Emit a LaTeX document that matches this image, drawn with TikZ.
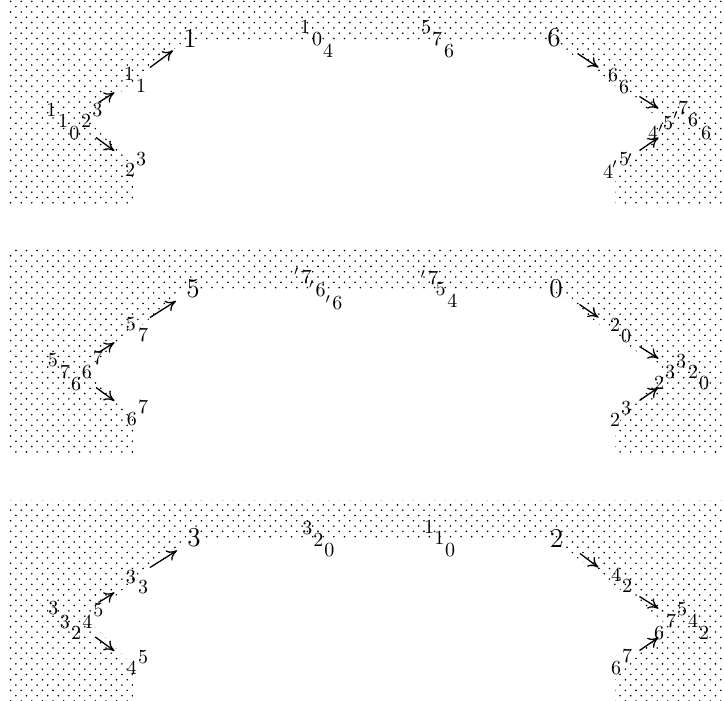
\documentclass[tikz,border=0pt]{standalone}
\usetikzlibrary{arrows.meta,patterns}
\pgfdeclarepatternformonly{sdots}{\pgfqpoint{-0.6pt}{-0.6pt}}{\pgfqpoint{3.3pt}{3.3pt}}{\pgfqpoint{5.3pt}{5.3pt}}{%
  \pgfpathcircle{\pgfqpoint{0pt}{0pt}}{0.45pt}%
  \pgfpathcircle{\pgfqpoint{2.65pt}{2.65pt}}{0.45pt}%
  \pgfusepath{fill}}
\newlength\pxu \setlength\pxu{0.5pt}
% one glyph, shifted right by #1 px and raised by #2 px
\newcommand\gl[3]{\makebox[0pt][l]{\hspace*{#1\pxu}\raisebox{#2\pxu}{\makebox[0pt][c]{#3}}}}
\newcommand\panelbg{%
  \fill[pattern=sdots,pattern color=black] (9,0) rectangle (724,204);
  \fill[white] (133,206) -- (133,165) -- (87,119) -- (186,40) -- (552,40)
     -- (663,121) -- (615,176) -- (615,206) -- cycle;}
\newcommand\parrows[1]{%
  \draw[arr] ([shift={(46.5,-13.95)}]#1C.base) -- ([shift={(-15.5,11.5)}]#1M.base);
  \draw[arr] ([shift={(20,-13.5)}]#1M.base) -- ([shift={(-17,12.5)}]#1L.center);
  \draw[arr] ([shift={(44,21.05)}]#1C.base) -- ([shift={(-16.5,-25)}]#1B.base);
  \draw[arr] ([shift={(23.5,15.5)}]#1R.center) -- ([shift={(-15.5,-14)}]#1RM.base);
  \draw[arr] ([shift={(25.5,15)}]#1RM.base) -- ([shift={(2.5,-31)}]#1RC.base);
  \draw[arr] ([shift={(27.5,-26)}]#1RB.base) -- ([shift={(2.5,-2)}]#1RC.base);}
\begin{document}
\begin{tikzpicture}[x=0.5pt,y=-0.5pt,
  sm/.style={inner sep=0pt,anchor=base,font=\fontsize{10}{12}\selectfont},
  big/.style={inner sep=0pt,font=\fontsize{13.6}{16}\selectfont},
  arr/.style={-{To[length=5pt,width=6pt]},line width=0.65pt}]
\useasboundingbox (0,0) rectangle (724,701);
% ---------------- panel 1
\begin{scope}
\panelbg
\node[big] (p1L) at (190,38) {1};
\node[big] (p1R) at (554,38) {6};
\node[sm] (p1M) at (130,81) {\gl{-1}{0}{1}\gl{11}{-12}{1}};
\node[sm] (p1C) at (52,116.45) {\gl{-0.5}{0}{1}\gl{11}{-11.5}{1}\gl{22.5}{-23}{0}\gl{34}{-11.5}{2}\gl{45.5}{0}{3}};
\node[sm] (p1B) at (131,176) {\gl{-1}{-0.5}{2}\gl{10}{10.5}{3}};
\node[sm] (p1T) at (305,33.45) {\gl{0}{0}{1}\gl{12}{-12.5}{0}\gl{23}{-24}{4}};
\node[sm] (p1U) at (426,33.45) {\gl{0}{0}{5}\gl{11}{-12}{7}\gl{23}{-24}{6}};
\node[sm] (p1RM) at (614,81.5) {\gl{-1}{0}{6}\gl{10}{-12}{6}};
\node[sm] (p1RC) at (656,139.5) {\gl{-3}{0}{4}\gl{5}{0}{$'$}\gl{12}{10}{5}\gl{20}{12.4}{$'$}\gl{27}{25}{7}\gl{37}{13}{6}\gl{50}{0}{6}};
\node[sm] (p1RB) at (612,176.5) {\gl{-4}{-2}{4}\gl{3}{1}{$'$}\gl{12}{10.75}{5}\gl{18}{7.7}{$'$}};
\parrows{p1}
\end{scope}
% ---------------- panel 2
\begin{scope}[shift={(0,250)}]
\panelbg
\node[big] (p2L) at (193,38.5) {5};
\node[big] (p2R) at (556,39) {0};
\node[sm] (p2M) at (130,81) {\gl{1}{0.5}{5}\gl{13}{-10.5}{7}};
\node[sm] (p2C) at (52,116.45) {\gl{1}{0}{5}\gl{13}{-12}{7}\gl{24}{-24}{6}\gl{35}{-12}{6}\gl{46}{2}{7}};
\node[sm] (p2B) at (131,176) {\gl{1}{0.5}{6}\gl{12}{12.5}{7}};
\node[sm] (p2T) at (306.7,33.15) {\gl{-10}{0.35}{$'$}\gl{0}{0}{7}\gl{5}{-12.25}{$'$}\gl{14}{-13.3}{6}\gl{21.6}{-27.25}{$'$}\gl{30.6}{-26}{6}};
\node[sm] (p2U) at (433.3,34.75) {\gl{-10}{-0.65}{$'$}\gl{0}{0}{7}\gl{7.4}{-11}{5}\gl{19}{-22.4}{4}};
\node[sm] (p2RM) at (614,81.5) {\gl{1}{0}{2}\gl{12}{-11}{0}};
\node[sm] (p2RC) at (656,139.5) {\gl{3}{0}{2}\gl{14}{11}{3}\gl{25}{22}{3}\gl{37}{11}{2}\gl{48}{0}{0}};
\node[sm] (p2RB) at (612,176.5) {\gl{3}{0}{2}\gl{14}{12}{3}};
\parrows{p2}
\end{scope}
% ---------------- panel 3
\begin{scope}[shift={(0,500)}]
\panelbg
\node[big] (p3L) at (194,38) {3};
\node[big] (p3R) at (556.5,38) {2};
\node[sm] (p3M) at (130,81) {\gl{1}{-2}{3}\gl{13}{-12}{3}};
\node[sm] (p3C) at (52,116.45) {\gl{1.3}{1.7}{3}\gl{13}{-11.7}{3}\gl{24}{-23.3}{2}\gl{35.3}{-11.7}{4}\gl{46.3}{0}{5}};
\node[sm] (p3B) at (131,176) {\gl{1}{1.5}{4}\gl{12}{12.5}{5}};
\node[sm] (p3T) at (307.3,34.15) {\gl{0}{0}{3}\gl{11}{-12.3}{2}\gl{22}{-22.3}{0}};
\node[sm] (p3U) at (429,33.15) {\gl{0}{0}{1}\gl{10.3}{-11.6}{1}\gl{21}{-23.3}{0}};
\node[sm] (p3RM) at (614,81.5) {\gl{2}{0}{4}\gl{13}{-11}{2}};
\node[sm] (p3RC) at (656,139.5) {\gl{3}{0}{6}\gl{15}{12}{7}\gl{26}{24}{5}\gl{37}{12}{4}\gl{48}{0}{2}};
\node[sm] (p3RB) at (612,176.5) {\gl{4}{2}{6}\gl{15}{14}{7}};
\parrows{p3}
\end{scope}
\end{tikzpicture}
\end{document}
